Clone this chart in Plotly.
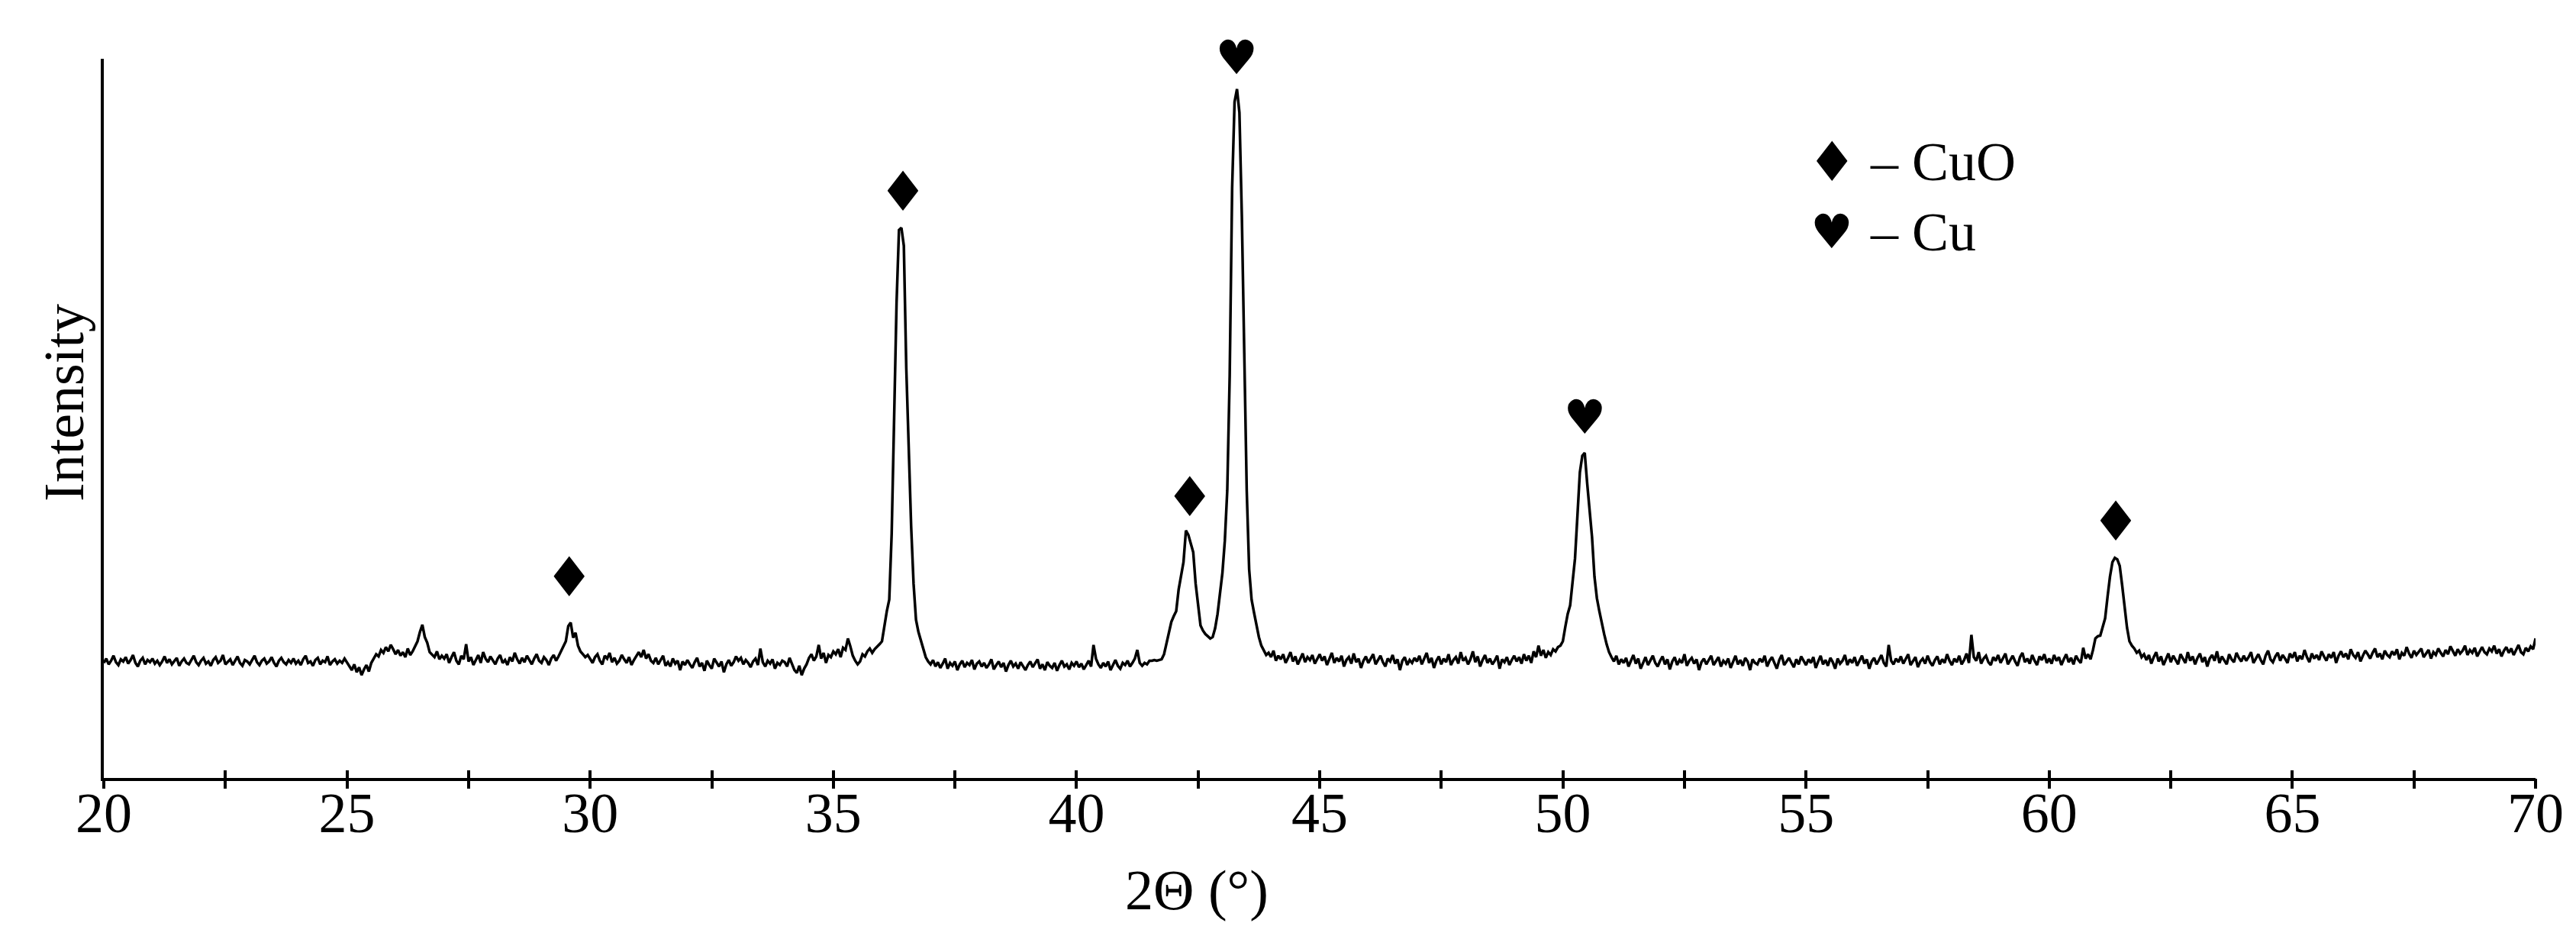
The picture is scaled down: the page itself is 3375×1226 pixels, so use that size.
import plotly.graph_objects as go

# XRD scan, 2-theta 20..70 deg with a 0.05 deg step
scan_start = 20.0
scan_step = 0.05

intensity = [
    # 20
    160, 166, 158, 163, 170, 161, 157, 165, 162, 168, 159, 164, 171, 160, 155, 163, 167, 158, 164, 161,
    # 21
    166, 159, 163, 157, 162, 169, 160, 165, 158, 163, 167, 156, 162, 166, 160, 158, 164, 170, 161, 157,
    # 22
    163, 167, 159, 162, 156, 164, 168, 160, 163, 171, 158, 161, 165, 157, 163, 169, 160, 156, 164, 162,
    # 23
    158, 165, 170, 161, 157, 163, 166, 159, 162, 168, 160, 155, 163, 167, 161, 158, 164, 160, 166, 159,
    # 24
    163, 157, 165, 170, 160, 162, 156, 164, 167, 158, 163, 161, 169, 157, 162, 165, 159, 163, 160, 166,
    # 25
    161, 156, 150, 158, 147, 154, 143, 151, 157, 148, 160, 166, 172, 169, 178, 174, 182, 176, 185, 179,
    # 26
    172, 178, 170, 175, 168, 180, 171, 176, 183, 190, 203, 213, 196, 188, 175, 171, 168, 176, 165, 170,
    # 27
    166, 172, 160, 168, 175, 163, 158, 170, 165, 186, 162, 168, 157, 164, 171, 160, 175, 166, 161, 169,
    # 28
    163, 158, 166, 171, 160, 164, 157, 168, 162, 174, 165, 159, 167, 161, 170, 164, 158, 166, 172, 163,
    # 29
    160, 168, 164, 157, 166, 171, 163, 169, 176, 181, 190, 211, 216, 195, 202, 184, 176, 172, 168, 171,
    # 30
    165, 160, 168, 172, 163, 158, 170, 166, 174, 161, 167, 159, 163, 171, 165, 160, 168, 157, 164, 170,
    # 31
    175, 168, 178, 166, 172, 163, 160, 167, 158, 164, 170, 156, 161, 155, 166, 159, 163, 150, 162, 157,
    # 32
    164, 158, 153, 161, 167, 155, 160, 149, 163, 157, 152, 166, 160, 155, 162, 147, 158, 164, 156, 161,
    # 33
    169, 163, 167, 158, 164, 160, 154, 162, 166, 157, 180, 161, 155, 163, 159, 165, 152, 160, 157, 163,
    # 34
    161, 155, 167, 159, 150, 146, 156, 143, 152, 158, 167, 172, 163, 169, 185, 166, 174, 160, 171, 168,
    # 35
    176, 172, 179, 168, 181, 178, 194, 183, 170, 163, 158, 162, 172, 169, 176, 180, 174, 179, 182, 186,
    # 36
    190, 212, 232, 248, 340, 500, 660, 762, 765, 740, 570, 460, 350, 270, 220, 203, 192, 180, 168, 162,
    # 37
    158, 164, 155, 161, 153, 159, 166, 152, 160, 156, 162, 150, 158, 163, 154, 160, 157, 164, 151, 159,
    # 38
    162, 155, 160, 153, 158, 165, 151, 157, 162, 154, 160, 148, 157, 163, 155, 159, 152, 161, 156, 150,
    # 39
    157, 162, 154, 159, 165, 152, 158, 150, 161, 156, 153, 160, 149, 157, 163, 155, 158, 151, 160, 156,
    # 40
    162, 154, 159, 151, 157, 163, 155, 185, 166, 158, 153, 160, 155, 162, 150, 158, 164, 156, 152, 160,
    # 41
    157, 163, 155, 160, 166, 178, 160, 156, 160, 158, 163, 163, 164, 163, 164, 165, 172, 186, 200, 217,
    # 42
    225, 232, 262, 280, 300, 344, 338, 326, 314, 270, 238, 212, 205, 200, 197, 194, 196, 208, 228, 258,
    # 43
    285, 330, 400, 560, 820, 940, 958, 925, 780, 590, 400, 290, 248, 230, 212, 196, 184, 178, 171, 174,
    # 44
    168, 177, 163, 170, 165, 172, 160, 167, 175, 162, 169, 158, 166, 173, 161, 168, 164, 171, 159, 166,
    # 45
    172, 163, 169, 157, 165, 174, 160, 167, 162, 170, 155, 164, 168, 159, 173, 161, 166, 153, 163, 169,
    # 46
    160, 167, 172, 158, 164, 170, 161, 155, 166, 162, 171, 159, 165, 150, 163, 168, 157, 164, 160, 167,
    # 47
    162, 170, 158, 165, 174, 160, 167, 153, 163, 169, 158, 166, 161, 172, 157, 164, 168, 159, 175, 163,
    # 48
    167, 158, 165, 176, 161, 169, 155, 164, 171, 160, 166, 158, 163, 170, 152, 165, 161, 168, 157, 164,
    # 49
    170, 162, 168, 159, 172, 163, 170, 160, 176, 168, 184, 170, 178, 167, 175, 171, 179, 176, 182, 184,
    # 50
    190, 210, 228, 240, 270, 305, 365, 425, 448, 452, 410, 370, 335, 280, 250, 232, 215, 200, 186, 175,
    # 51
    168, 162, 170, 158, 165, 160, 167, 155, 163, 171, 159, 166, 152, 161, 168, 157, 164, 170, 160, 155,
    # 52
    163, 169, 158, 165, 151, 162, 168, 157, 164, 160, 172, 156, 163, 167, 159, 165, 150, 161, 166, 158,
    # 53
    164, 170, 157, 162, 168, 155, 163, 159, 166, 153, 161, 170, 158, 164, 156, 167, 162, 150, 165, 160,
    # 54
    158, 166, 161, 170, 155, 163, 168, 159, 152, 164, 171, 157, 162, 167, 160, 154, 165, 158, 169, 163,
    # 55
    157, 165, 160, 168, 153, 162, 170, 158, 164, 156, 167, 161, 152, 166, 159, 163, 171, 157, 165, 160,
    # 56
    168, 156, 163, 170, 159, 165, 152, 162, 167, 158, 164, 171, 160, 155, 185, 163, 158, 166, 161, 169,
    # 57
    159, 165, 172, 157, 163, 168, 154, 162, 166, 159, 170, 161, 156, 164, 169, 158, 165, 160, 172, 163,
    # 58
    157, 166, 161, 170, 158, 164, 173, 160, 199, 168, 163, 175, 159, 166, 170, 161, 157, 168, 163, 171,
    # 59
    160, 167, 173, 158, 165, 170, 162, 156, 168, 174, 161, 166, 159, 171, 163, 157, 169, 164, 172, 160,
    # 60
    166, 159, 171, 163, 168, 157, 165, 172, 161, 167, 158, 170, 164, 160, 181, 166, 172, 165, 178, 194,
    # 61
    197, 198, 210, 222, 252, 280, 300, 306, 304, 295, 268, 235, 209, 190, 184, 180, 174, 177, 168, 172,
    # 62
    164, 171, 159, 168, 175, 162, 169, 157, 166, 173, 161, 170, 164, 158, 172, 166, 160, 175, 163, 169,
    # 63
    158, 167, 173, 161, 168, 155, 166, 171, 163, 176, 160, 169, 164, 158, 172, 165, 161, 174, 167, 162,
    # 64
    170, 163, 168, 175, 160, 166, 172, 164, 158, 170, 177, 165, 161, 169, 174, 163, 171, 166, 160, 173,
    # 65
    167, 175, 162, 170, 165, 178, 168, 161, 173, 166, 171, 164, 176, 169, 163, 172, 167, 175, 160, 170,
    # 66
    176, 168, 173, 165, 179, 171, 167, 175, 162, 170, 177, 172, 166, 174, 180, 168, 173, 165, 177, 171,
    # 67
    168, 176, 171, 179, 165, 174, 170, 182, 173, 167, 177, 171, 175, 180, 168, 173, 178, 166, 175, 171,
    # 68
    180, 174, 169, 178, 172, 183, 176, 170, 179, 173, 177, 184, 171, 178, 174, 181, 169, 176, 182, 175,
    # 69
    172, 180, 176, 184, 173, 179, 169, 177, 182, 174, 180, 171, 178, 185, 175, 172, 181, 176, 183, 179,
    # 70
    194,
]
two_theta = [round(scan_start + scan_step * i, 2) for i in range(len(intensity))]

# phase labels over the peaks
cuo_x = [29.57, 36.43, 42.33, 61.37]
cuo_y = [272, 808, 383, 349]
cu_x = [43.29, 50.45]
cu_y = [995, 495]

x_tickvals = [20, 22.5, 25, 27.5, 30, 32.5, 35, 37.5, 40, 42.5, 45,
              47.5, 50, 52.5, 55, 57.5, 60, 62.5, 65, 67.5, 70]
x_ticktext = ["20", "", "25", "", "30", "", "35", "", "40", "", "45",
              "", "50", "", "55", "", "60", "", "65", "", "70"]

legend_symbols = ["\u2666", "\u2665"]
legend_labels = ["\u2013 CuO", "\u2013 Cu"]

W, H = 3375, 1226
L, R, T, B = 128, 61, 69, 215
SERIF = "Liberation Serif, Times New Roman, serif"
SYMB = "DejaVu Sans, sans-serif"
SYM_SIZE = {"\u2666": 72, "\u2665": 62}


def px_to_paper(px, py):
    return (px - L) / (W - L - R), (H - B - py) / (H - T - B)


fig = go.Figure()
fig.add_trace(go.Scatter(
    x=two_theta, y=intensity, mode="lines",
    line=dict(color="black", width=3.5), hoverinfo="skip", showlegend=False))
fig.add_trace(go.Scatter(
    x=cuo_x, y=cuo_y, mode="text", text=[legend_symbols[0]] * len(cuo_x),
    textfont=dict(family=SYMB, size=SYM_SIZE["\u2666"], color="black"),
    cliponaxis=False, hoverinfo="skip", showlegend=False))
fig.add_trace(go.Scatter(
    x=cu_x, y=cu_y, mode="text", text=[legend_symbols[1]] * len(cu_x),
    textfont=dict(family=SYMB, size=SYM_SIZE["\u2665"], color="black"),
    cliponaxis=False, hoverinfo="skip", showlegend=False))
# dummy trace so the overlaid axis (outer half of the crossing ticks) is drawn
fig.add_trace(go.Scatter(
    x=two_theta[:1], y=intensity[:1], xaxis="x2", mode="markers",
    marker=dict(opacity=0), hoverinfo="skip", showlegend=False))

annotations = []
ix, iy = px_to_paper(76, 520)
annotations.append(dict(
    text="Intensity", xref="paper", yref="paper", x=ix, y=iy, textangle=-90,
    showarrow=False, xanchor="center", yanchor="middle",
    font=dict(family=SERIF, size=74, color="black")))
tx, ty = px_to_paper(1560, 1158)
annotations.append(dict(
    text="2\u0398 (\u00b0)", xref="paper", yref="paper", x=tx, y=ty,
    showarrow=False, xanchor="center", yanchor="middle",
    font=dict(family=SERIF, size=74, color="black")))
for k, (sym, lab) in enumerate(zip(legend_symbols, legend_labels)):
    cy = 204 + 92 * k
    sx, sy = px_to_paper(2392, cy)
    annotations.append(dict(
        text=sym, xref="paper", yref="paper", x=sx, y=sy, showarrow=False,
        xanchor="center", yanchor="middle",
        font=dict(family=SYMB, size=SYM_SIZE[sym], color="black")))
    lx, ly = px_to_paper(2440, cy)
    annotations.append(dict(
        text=lab, xref="paper", yref="paper", x=lx, y=ly, showarrow=False,
        xanchor="left", yanchor="middle",
        font=dict(family=SERIF, size=72, color="black")))

fig.update_layout(
    width=W, height=H,
    margin=dict(l=L, r=R, t=T, b=B),
    paper_bgcolor="white", plot_bgcolor="white",
    showlegend=False,
    xaxis=dict(
        range=[20, 70], showline=True, linewidth=4, linecolor="black",
        ticks="inside", ticklen=10, tickwidth=4, tickcolor="black",
        tickvals=x_tickvals, ticktext=x_ticktext,
        tickfont=dict(family=SERIF, size=74, color="black"),
        ticklabelstandoff=-22,
        showgrid=False, zeroline=False),
    xaxis2=dict(
        range=[20, 70], overlaying="x", anchor="y", side="bottom",
        ticks="outside", ticklen=13, tickwidth=4, tickcolor="black",
        tickvals=x_tickvals, showticklabels=False,
        showline=False, showgrid=False, zeroline=False),
    yaxis=dict(
        range=[0, 1000], showline=True, linewidth=4, linecolor="black",
        ticks="", showticklabels=False, showgrid=False, zeroline=False),
    annotations=annotations,
)

fig.write_html("out.html")
